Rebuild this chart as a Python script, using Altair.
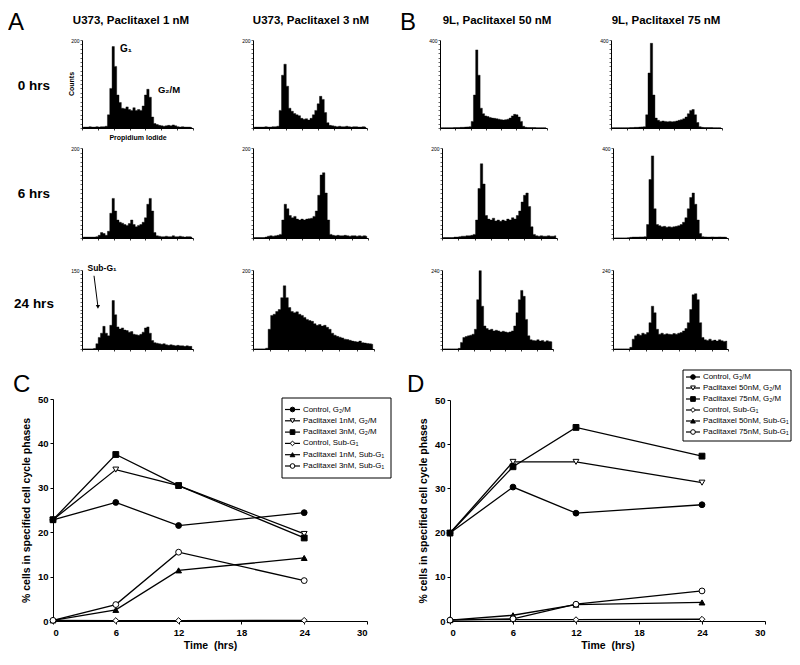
import altair as alt
import pandas as pd

FONT = "Liberation Sans"
W, H = 784, 646
M = 8  # page margin: reference pixel positions are page coordinates


def P(v):
    return v - M


# ---------------- data ----------------
bins = list(range(48))
col_titles = ["U373, Paclitaxel 1 nM", "U373, Paclitaxel 3 nM", "9L, Paclitaxel 50 nM", "9L, Paclitaxel 75 nM"]
row_labels = ["0 hrs", "6 hrs", "24 hrs"]
hist_ymax = [[200, 200, 400, 400], [200, 200, 200, 400], [150, 200, 240, 240]]

u1_0 = [2, 2, 2, 3, 2, 2, 3, 2, 3, 3, 4, 30, 90, 185, 140, 75, 58, 45, 44, 48,
        42, 40, 46, 40, 42, 40, 50, 75, 88, 70, 25, 10, 8, 6, 5, 4, 5, 6, 5, 7,
        5, 3, 2, 3, 2, 2, 2, 1]
u3_0 = [2, 2, 2, 2, 2, 3, 2, 2, 3, 3, 4, 40, 120, 145, 95, 45, 38, 33, 30, 28,
        22, 20, 21, 18, 22, 30, 40, 55, 72, 65, 35, 12, 6, 5, 4, 3, 4, 3, 3, 4,
        3, 2, 3, 3, 2, 2, 3, 2]
l50_0 = [1, 1, 1, 1, 1, 1, 2, 2, 2, 3, 3, 4, 5, 6, 30, 150, 355, 240, 90, 65,
         55, 52, 48, 45, 44, 42, 40, 38, 36, 38, 40, 45, 55, 62, 60, 50, 30, 8, 3, 2,
         2, 2, 2, 1, 1, 1, 1, 1]
l75_0 = [1, 1, 1, 1, 1, 1, 1, 1, 2, 2, 3, 3, 4, 5, 6, 60, 250, 385, 150, 45,
         35, 30, 32, 30, 28, 30, 28, 30, 32, 35, 38, 42, 50, 65, 80, 84, 60, 25, 6, 3,
         2, 2, 2, 2, 1, 1, 1, 1]
u1_6 = [2, 2, 2, 2, 2, 2, 3, 6, 12, 10, 6, 15, 55, 88, 60, 40, 35, 33, 30, 28,
        32, 40, 30, 25, 28, 30, 35, 45, 75, 88, 60, 12, 5, 4, 3, 3, 4, 3, 3, 5,
        3, 3, 4, 3, 2, 3, 3, 2]
u3_6 = [1, 1, 1, 1, 1, 2, 4, 5, 4, 5, 6, 8, 40, 75, 65, 50, 45, 48, 42, 40,
        42, 40, 42, 43, 44, 48, 60, 95, 140, 145, 100, 40, 8, 6, 5, 6, 5, 5, 6, 5,
        4, 5, 5, 4, 5, 4, 5, 4]
l50_6 = [1, 1, 1, 1, 1, 2, 2, 3, 4, 4, 5, 5, 6, 8, 40, 110, 165, 120, 50, 42,
         40, 44, 38, 40, 37, 40, 38, 42, 40, 45, 42, 50, 60, 80, 95, 100, 70, 25, 8, 5,
         4, 5, 4, 4, 5, 4, 4, 5]
l75_6 = [0, 0, 0, 0, 0, 0, 1, 3, 4, 4, 4, 5, 5, 6, 60, 260, 365, 130, 60, 55,
         50, 52, 48, 50, 48, 50, 52, 55, 60, 70, 90, 130, 180, 200, 150, 80, 20, 6, 5, 4,
         4, 5, 4, 4, 5, 4, 4, 3]
u1_24 = [0, 0, 0, 0, 0, 1, 10, 22, 30, 43, 30, 25, 45, 92, 65, 42, 38, 40, 36, 35,
         32, 33, 28, 27, 26, 28, 32, 40, 42, 30, 16, 12, 11, 10, 9, 10, 8, 7, 8, 7,
         6, 7, 6, 6, 5, 6, 5, 5]
u3_24 = [0, 0, 0, 0, 0, 2, 50, 85, 88, 95, 100, 130, 160, 130, 105, 95, 92, 94, 88, 85,
         80, 75, 72, 70, 64, 60, 62, 58, 60, 55, 50, 40, 35, 32, 30, 28, 25, 24, 22, 20,
         19, 18, 20, 16, 15, 14, 13, 12]
l50_24 = [0, 0, 0, 0, 0, 0, 0, 2, 20, 35, 38, 40, 42, 45, 60, 150, 238, 130, 70, 62,
          58, 60, 55, 57, 55, 52, 54, 52, 50, 52, 55, 70, 110, 150, 178, 160, 90, 40, 28, 26,
          25, 28, 24, 26, 22, 25, 23, 22]
l75_24 = [0, 0, 0, 0, 0, 0, 0, 5, 30, 40, 45, 42, 48, 45, 50, 80, 130, 110, 60, 45,
          48, 44, 46, 45, 44, 47, 45, 48, 50, 55, 62, 80, 120, 165, 168, 150, 80, 35, 28, 26,
          30, 25, 27, 24, 28, 25, 23, 24]
hist_counts = [[u1_0, u3_0, l50_0, l75_0], [u1_6, u3_6, l50_6, l75_6], [u1_24, u3_24, l50_24, l75_24]]

arrow_x = [5.2, 6.9]
arrow_y = [139, 80]

times = [0, 6, 12, 24]
series_c = ["Control, G\u2082/M", "Paclitaxel 1nM, G\u2082/M", "Paclitaxel 3nM, G\u2082/M",
            "Control, Sub-G\u2081", "Paclitaxel 1nM, Sub-G\u2081", "Paclitaxel 3nM, Sub-G\u2081"]
values_c = [[22.8, 26.7, 21.5, 24.4],
            [22.8, 34.1, 30.5, 19.6],
            [22.8, 37.5, 30.5, 18.7],
            [0.15, 0.1, 0.1, 0.15],
            [0.15, 2.5, 11.4, 14.2],
            [0.15, 3.7, 15.5, 9.1]]
series_d = ["Control, G\u2082/M", "Paclitaxel 50nM, G\u2082/M", "Paclitaxel 75nM, G\u2082/M",
            "Control, Sub-G\u2081", "Paclitaxel 50nM, Sub-G\u2081", "Paclitaxel 75nM, Sub-G\u2081"]
values_d = [[19.9, 30.3, 24.4, 26.3],
            [19.9, 36.0, 36.0, 31.3],
            [19.9, 34.9, 43.8, 37.3],
            [0.3, 0.3, 0.3, 0.4],
            [0.2, 1.3, 3.7, 4.2],
            [0.2, 0.5, 3.8, 6.8]]
SHAPES = ["circle", "triangle-down", "square", "diamond", "triangle-up", "circle"]
FILLS = ["black", "white", "black", "white", "black", "white"]

# ---------------- layout (page pixels) ----------------
HIST_X = [[(82, 193), (253, 367), (440, 547), (611, 722)],
          [(82, 193), (253, 368), (442, 557), (613, 728)],
          [(82, 193), (253, 374), (442, 553), (613, 728)]]
HIST_Y = [(40, 128), (148, 238), (270, 349)]

layers = []


def text_layer(s, x, y, size, weight="normal", align="center", baseline="alphabetic", angle=0):
    return alt.Chart(pd.DataFrame({"t": [s]})).mark_text(
        font=FONT, fontSize=size, fontWeight=weight, align=align, baseline=baseline,
        angle=angle, color="black"
    ).encode(text="t:N", x=alt.value(P(x)), y=alt.value(P(y)))


def hist_scales(xr, yr, ym):
    xs = alt.Scale(domain=[0, 48], range=[P(xr[0]), P(xr[1])], nice=False, zero=False)
    ys = alt.Scale(domain=[0, ym], range=[P(yr[1]), P(yr[0])], nice=False)
    return xs, ys


def hist_layer(counts, ym, xr, yr):
    df = pd.DataFrame({"b": bins, "c": counts})
    xs, ys = hist_scales(xr, yr, ym)
    xaxis = alt.Axis(orient="bottom", offset=P(yr[1]) - H, values=[48 * i / 7 for i in range(8)],
                     labels=False, title=None, grid=False, tickSize=2, tickWidth=0.8,
                     domainColor="black", tickColor="black", domainWidth=1)
    yaxis = alt.Axis(orient="left", offset=-P(xr[0]), values=[ym * i / 20 for i in range(21)],
                     labelExpr=f"datum.value == {ym} ? '{ym}' : ''", title=None, grid=False,
                     tickSize=2, tickWidth=0.6, labelFontSize=5, labelPadding=1, labelFont=FONT,
                     labelColor="black", domainColor="black", tickColor="black", domainWidth=1)
    return alt.Chart(df).transform_calculate(m="datum.b + 0.5").mark_area(
        interpolate="step", color="black", opacity=1, stroke="black", strokeWidth=0.4
    ).encode(
        x=alt.X("m:Q", scale=xs, axis=xaxis),
        y=alt.Y("c:Q", scale=ys, axis=yaxis, stack=None),
    )


for r in range(3):
    for c in range(4):
        layers.append(hist_layer(hist_counts[r][c], hist_ymax[r][c], HIST_X[r][c], HIST_Y[r]))

# Sub-G1 arrow in row 3, column 1
xs_a, ys_a = hist_scales(HIST_X[2][0], HIST_Y[2], hist_ymax[2][0])
arrow_df = pd.DataFrame({"x": [arrow_x[0]], "y": [arrow_y[0]], "x2": [arrow_x[1]], "y2": [arrow_y[1]]})
layers.append(alt.Chart(arrow_df).mark_rule(color="black", strokeWidth=1).encode(
    x=alt.X("x:Q", scale=xs_a, axis=None), y=alt.Y("y:Q", scale=ys_a, axis=None), x2="x2:Q", y2="y2:Q"))
head_df = pd.DataFrame({"x": [arrow_x[1]], "y": [arrow_y[1]]})
layers.append(alt.Chart(head_df).mark_point(shape="triangle-down", filled=True, color="black", size=18, opacity=1).encode(
    x=alt.X("x:Q", scale=xs_a, axis=None), y=alt.Y("y:Q", scale=ys_a, axis=None)))

# texts for top part
layers.append(text_layer("A", 16, 30, 24))
layers.append(text_layer("B", 408, 30, 24))
for t, cx in zip(col_titles, [131, 311, 497, 666]):
    layers.append(text_layer(t, cx, 24, 11.5, "bold"))
for t, cy in zip(row_labels, [86, 194, 304]):
    layers.append(text_layer(t, 34, cy, 13.5, "bold", baseline="middle"))
layers.append(text_layer("G\u2081", 126, 49, 10, "bold", baseline="middle"))
layers.append(text_layer("G\u2082/M", 169, 90, 9.5, "bold", baseline="middle"))
layers.append(text_layer("Counts", 72, 84, 7, "bold", baseline="middle", angle=270))
layers.append(text_layer("Propidium Iodide", 138, 138, 7, "bold", baseline="middle"))
layers.append(text_layer("Sub-G\u2081", 102, 268, 8.5, "bold", baseline="middle"))
layers.append(text_layer("C", 13, 392, 24, align="left"))
layers.append(text_layer("D", 407, 392, 24, align="left"))


def line_layers(series, values, xr, yr, box, sym_x, row_y):
    out = []
    rows = []
    for s, vals in zip(series, values):
        for t, v in zip(times, vals):
            rows.append({"s": s, "t": t, "v": v})
    df = pd.DataFrame(rows)
    xs = alt.Scale(domain=[0, 30], range=[P(xr[0]), P(xr[1])], nice=False, zero=False)
    ys = alt.Scale(domain=[0, 50], range=[P(yr[0]), P(yr[1])], nice=False)
    common = dict(grid=False, labelFont=FONT, labelFontWeight="bold", labelFontSize=9.5,
                  labelColor="black", titleFont=FONT, titleFontWeight="bold", titleFontSize=10.5,
                  titleColor="black", domainColor="black", tickColor="black", domainWidth=1,
                  tickSize=3)
    xaxis = alt.Axis(orient="bottom", offset=P(yr[0]) - H, values=[0, 6, 12, 18, 24, 30],
                     title="Time\u00a0\u00a0(hrs)", labelPadding=3, titlePadding=4, **common)
    yaxis = alt.Axis(orient="left", offset=-P(xr[0]), values=[0, 10, 20, 30, 40, 50],
                     title="% cells in specified cell cycle phases", labelPadding=2, titlePadding=6, **common)
    shp = alt.Scale(domain=series, range=SHAPES)
    fll = alt.Scale(domain=series, range=FILLS)
    out.append(alt.Chart(df).mark_line(color="black", strokeWidth=1.3).encode(
        x=alt.X("t:Q", scale=xs, axis=xaxis), y=alt.Y("v:Q", scale=ys, axis=yaxis),
        detail="s:N", order="t:Q"))
    out.append(alt.Chart(df).mark_point(filled=True, stroke="black", strokeWidth=1, size=34, opacity=1).encode(
        x=alt.X("t:Q", scale=xs, axis=None), y=alt.Y("v:Q", scale=ys, axis=None),
        shape=alt.Shape("s:N", scale=shp, legend=None),
        fill=alt.Fill("s:N", scale=fll, legend=None)))
    # legend box
    ldf = pd.DataFrame({"s": series, "r": list(range(len(series)))})
    lx = alt.Scale(domain=[0, 1], range=[P(sym_x[0]), P(sym_x[1])], nice=False, zero=False)
    ly = alt.Scale(domain=[0, 5], range=[P(row_y[0]), P(row_y[1])], nice=False, zero=False)
    out.append(alt.Chart(pd.DataFrame({"a": [0]})).mark_rect(fill="white", stroke="black", strokeWidth=1).encode(
        x=alt.value(P(box[0])), x2=alt.value(P(box[1])), y=alt.value(P(box[2])), y2=alt.value(P(box[3]))))
    out.append(alt.Chart(ldf).transform_calculate(a="0", b="1").mark_rule(color="black", strokeWidth=1.2).encode(
        x=alt.X("a:Q", scale=lx, axis=None), x2="b:Q", y=alt.Y("r:Q", scale=ly, axis=None)))
    out.append(alt.Chart(ldf).transform_calculate(m="0.5").mark_point(
        filled=True, stroke="black", strokeWidth=1, size=22, opacity=1).encode(
        x=alt.X("m:Q", scale=lx, axis=None), y=alt.Y("r:Q", scale=ly, axis=None),
        shape=alt.Shape("s:N", scale=shp, legend=None),
        fill=alt.Fill("s:N", scale=fll, legend=None)))
    out.append(alt.Chart(ldf).transform_calculate(e="1").mark_text(
        align="left", baseline="middle", dx=3, font=FONT, fontSize=7.9, color="black").encode(
        x=alt.X("e:Q", scale=lx, axis=None), y=alt.Y("r:Q", scale=ly, axis=None), text="s:N"))
    return out


layers += line_layers(series_c, values_c, (53, 367), (621, 399), (282, 391, 398, 478), (285, 300), (409.5, 466))
layers += line_layers(series_d, values_d, (450, 765), (621, 400), (683, 791, 370, 441), (686, 700), (377, 432))

chart = alt.layer(*layers).resolve_scale(
    x="independent", y="independent", shape="independent", fill="independent"
).resolve_axis(x="independent", y="independent").properties(
    width=W, height=H, padding=0, autosize=alt.AutoSizeParams(type="none")
).configure_view(stroke=None)

chart.save("out.html", embed_options={"renderer": "svg", "actions": False})
